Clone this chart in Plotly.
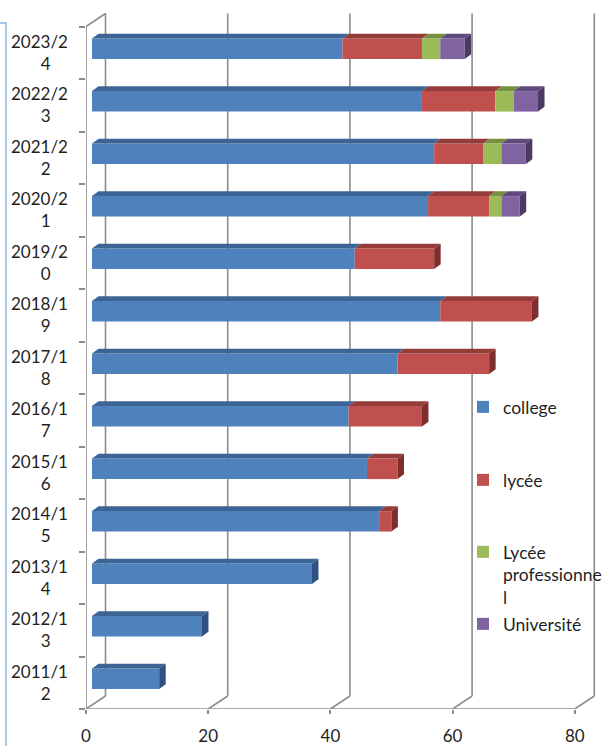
import plotly.graph_objects as go

# ---------------- data ----------------
categories = ["2011/12", "2012/13", "2013/14", "2014/15", "2015/16", "2016/17",
              "2017/18", "2018/19", "2019/20", "2020/21", "2021/22", "2022/23", "2023/24"]
college = [11, 18, 36, 47, 45, 42, 50, 57, 43, 55, 56, 54, 41]
lycee = [0, 0, 0, 2, 5, 12, 15, 15, 13, 10, 8, 12, 13]
lycee_pro = [0, 0, 0, 0, 0, 0, 0, 0, 0, 2, 3, 3, 3]
universite = [0, 0, 0, 0, 0, 0, 0, 0, 0, 3, 4, 4, 4]
x_ticks = [0, 20, 40, 60, 80]

series = [
    ("college", college, "#4F81BD", "#3C6494", "#2F5080"),
    ("lycée", lycee, "#C0504D", "#953C3A", "#7E2F2D"),
    ("Lycée<br>professionne<br>l", lycee_pro, "#9BBB59", "#76903F", "#617634"),
    ("Université", universite, "#8064A2", "#5F4A7B", "#4C3A64"),
]

# ---------------- layout geometry ----------------
# body margin is reset to 0 by a post script, so figure pixels = page pixels
BODY = 0
W, H = 603 - BODY, 746 - BODY


def fx(p):  # page pixel -> figure pixel
    return p - BODY


PL, PR, PT, PB = fx(86), fx(600), fx(11), fx(709)
XS = 6.11                                   # px per x unit
YS = 52.5                                   # px per category
x_range = [0, (PR - PL) / XS]
y_range = [-0.5, -0.5 + (PB - PT) / YS]

DEPTH_X, DEPTH_Y = 19.5 / XS, 13.0 / YS
BAR_OFF_X = 6.0 / XS
BAR_OFF_Y = 3.9 / YS
BAR_W = 20.5 / YS
BAR_DX, BAR_DY = 6.5 / XS, 4.8 / YS

GRID = "#8C8C8C"
n = len(categories)

fig = go.Figure()
legends = ["legend", "legend2", "legend3", "legend4"]

shapes = []
cum = [0.0] * n
for k, (name, vals, c_front, c_top, c_side) in enumerate(series):
    base = [BAR_OFF_X + c for c in cum]
    fig.add_trace(go.Bar(
        y=[i + BAR_OFF_Y for i in range(n)],
        x=vals,
        base=base,
        orientation="h",
        width=BAR_W,
        name=name,
        marker=dict(color=c_front, line=dict(width=0)),
        legend=legends[k],
        hoverinfo="skip",
    ))
    for i in range(n):
        v = vals[i]
        if v <= 0:
            continue
        x0 = base[i]
        x1 = base[i] + v
        yt = i + BAR_OFF_Y + BAR_W / 2
        shapes.append(dict(
            type="path", xref="x", yref="y", layer="above",
            path=f"M{x0},{yt} L{x1},{yt} L{x1 + BAR_DX},{yt + BAR_DY} L{x0 + BAR_DX},{yt + BAR_DY} Z",
            fillcolor=c_top, line=dict(width=0),
        ))
    cum = [cum[i] + vals[i] for i in range(n)]

for i in range(n):
    last = None
    for (name, vals, c_front, c_top, c_side) in series:
        if vals[i] > 0:
            last = c_side
    x1 = BAR_OFF_X + cum[i]
    yt = i + BAR_OFF_Y + BAR_W / 2
    yb = i + BAR_OFF_Y - BAR_W / 2
    shapes.append(dict(
        type="path", xref="x", yref="y", layer="above",
        path=f"M{x1},{yb} L{x1},{yt} L{x1 + BAR_DX},{yt + BAR_DY} L{x1 + BAR_DX},{yb + BAR_DY} Z",
        fillcolor=last, line=dict(width=0),
    ))

ybot, ytop = -0.5, n - 0.5
for v in x_ticks:
    shapes.append(dict(type="line", xref="x", yref="y", layer="below",
                       x0=v + DEPTH_X, x1=v + DEPTH_X, y0=ybot + DEPTH_Y, y1=ytop + DEPTH_Y,
                       line=dict(color=GRID, width=1.6)))
    shapes.append(dict(type="line", xref="x", yref="y", layer="below",
                       x0=v, x1=v + DEPTH_X, y0=ybot, y1=ybot + DEPTH_Y,
                       line=dict(color=GRID, width=1.6)))
shapes.append(dict(type="line", xref="x", yref="y", layer="below",
                   x0=0, x1=x_ticks[-1], y0=ybot, y1=ybot, line=dict(color=GRID, width=1.6)))
shapes.append(dict(type="line", xref="x", yref="y", layer="below",
                   x0=0, x1=0, y0=ybot, y1=ytop, line=dict(color=GRID, width=1.6)))
shapes.append(dict(type="line", xref="x", yref="y", layer="below",
                   x0=0, x1=DEPTH_X, y0=ytop, y1=ytop + DEPTH_Y, line=dict(color=GRID, width=1.6)))


def px2paper_x(p):  # page pixel -> paper x
    return (fx(p) - PL) / (PR - PL)


def px2paper_y(q):  # page pixel -> paper y
    return (PB - fx(q)) / (PB - PT)


shapes.append(dict(type="path", xref="paper", yref="paper", layer="above",
                   path=f"M{px2paper_x(-2)},{px2paper_y(23)} L{px2paper_x(6)},{px2paper_y(23)} L{px2paper_x(6)},{px2paper_y(760)}",
                   line=dict(color="#8DB3E2", width=1.5)))

ticktext = [c[:6] + "<br>" + c[6:] + "\u00a0" * 4 for c in categories]

FONT = "Lato, 'Open Sans', sans-serif"
TXT = "#1f1f1f"


def leg(xp, yp, valign="middle"):
    return dict(x=px2paper_x(xp), y=px2paper_y(yp), xref="paper", yref="paper",
                xanchor="left", yanchor="middle", bgcolor="rgba(0,0,0,0)",
                font=dict(family=FONT, size=17.5, color=TXT), itemwidth=30,
                valign=valign, tracegroupgap=0)


fig.update_layout(
    width=W, height=H,
    margin=dict(l=PL, r=W - PR, t=PT, b=H - PB, autoexpand=False),
    paper_bgcolor="white", plot_bgcolor="rgba(0,0,0,0)",
    barmode="overlay",
    font=dict(family=FONT, size=17, color=TXT),
    showlegend=True,
    xaxis=dict(range=x_range, tickvals=x_ticks, ticks="outside", ticklen=4,
               tickcolor=GRID, tickwidth=1.5, showgrid=False, zeroline=False,
               showline=False, ticklabelstandoff=8, automargin=False,
               tickfont=dict(family=FONT, size=17, color=TXT)),
    yaxis=dict(range=y_range, tickvals=list(range(n)), ticktext=ticktext,
               ticks="", showgrid=False, zeroline=False, showline=False,
               minor=dict(tickmode="array", tickvals=[i - 0.5 for i in range(n + 1)],
                          ticks="outside", ticklen=6, tickcolor=GRID, tickwidth=1.5,
                          showgrid=False),
               ticklabelstandoff=17, automargin=False,
               tickfont=dict(family=FONT, size=17, color=TXT)),
    shapes=shapes,
    legend=leg(463, 407),
    legend2=leg(463, 480),
    legend3=leg(463, 575, valign="top"),
    legend4=leg(463, 624),
)

fig.write_html("out.html",
               config={"displayModeBar": False},
               post_script="document.body.style.margin='0px';document.body.style.overflow='hidden';")
